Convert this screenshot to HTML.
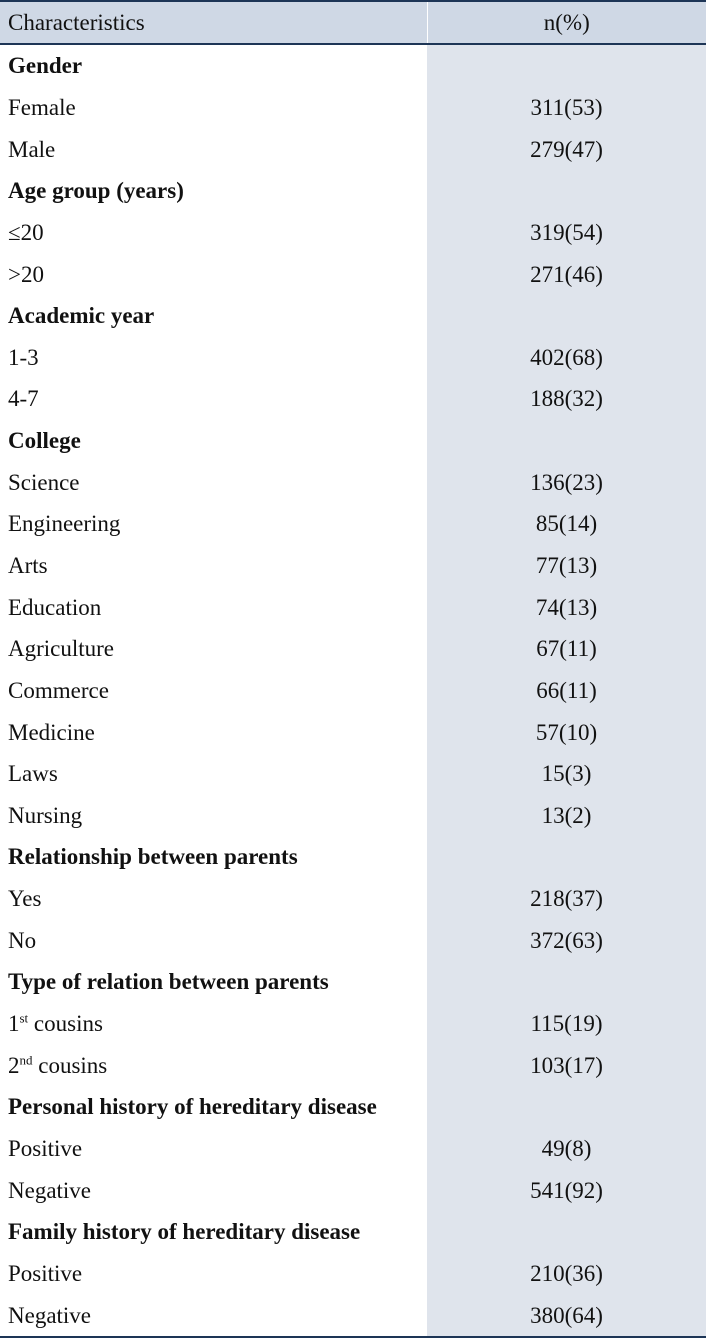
<!DOCTYPE html>
<html><head><meta charset="utf-8"><style>
html,body{margin:0;padding:0;background:#fff;}
body{width:706px;height:1337px;overflow:hidden;position:relative;font-family:"Liberation Serif",serif;color:#111;}
table{position:absolute;left:0;top:0;width:706px;border-collapse:collapse;table-layout:fixed;border-top:2px solid #1d3556;border-bottom:2px solid #1d3556;}
td,th{padding:0 0 0 8px;font-size:23px;font-weight:normal;height:41.65px;line-height:41px;white-space:nowrap;}
th{background:#cfd8e5;height:39px;border-bottom:2px solid #1d3556;}
th.c1{text-align:left;}
th.c2{text-align:center;padding:0;border-left:1px solid #fff;}
td.v{background:#dfe4ec;text-align:center;padding:0;}
tr.g td.l{font-weight:bold;}
sup{font-size:13px;line-height:0;}
</style></head><body>
<table>
<colgroup><col style="width:427px"><col style="width:279px"></colgroup>
<tr><th class="c1">Characteristics</th><th class="c2">n(%)</th></tr>
<tr class="g"><td class="l">Gender</td><td class="v"></td></tr>
<tr><td class="l">Female</td><td class="v">311(53)</td></tr>
<tr><td class="l">Male</td><td class="v">279(47)</td></tr>
<tr class="g"><td class="l">Age group (years)</td><td class="v"></td></tr>
<tr><td class="l">≤20</td><td class="v">319(54)</td></tr>
<tr><td class="l">&gt;20</td><td class="v">271(46)</td></tr>
<tr class="g"><td class="l">Academic year</td><td class="v"></td></tr>
<tr><td class="l">1-3</td><td class="v">402(68)</td></tr>
<tr><td class="l">4-7</td><td class="v">188(32)</td></tr>
<tr class="g"><td class="l">College</td><td class="v"></td></tr>
<tr><td class="l">Science</td><td class="v">136(23)</td></tr>
<tr><td class="l">Engineering</td><td class="v">85(14)</td></tr>
<tr><td class="l">Arts</td><td class="v">77(13)</td></tr>
<tr><td class="l">Education</td><td class="v">74(13)</td></tr>
<tr><td class="l">Agriculture</td><td class="v">67(11)</td></tr>
<tr><td class="l">Commerce</td><td class="v">66(11)</td></tr>
<tr><td class="l">Medicine</td><td class="v">57(10)</td></tr>
<tr><td class="l">Laws</td><td class="v">15(3)</td></tr>
<tr><td class="l">Nursing</td><td class="v">13(2)</td></tr>
<tr class="g"><td class="l">Relationship between parents</td><td class="v"></td></tr>
<tr><td class="l">Yes</td><td class="v">218(37)</td></tr>
<tr><td class="l">No</td><td class="v">372(63)</td></tr>
<tr class="g"><td class="l">Type of relation between parents</td><td class="v"></td></tr>
<tr><td class="l">1<sup>st</sup> cousins</td><td class="v">115(19)</td></tr>
<tr><td class="l">2<sup>nd</sup> cousins</td><td class="v">103(17)</td></tr>
<tr class="g"><td class="l">Personal history of hereditary disease</td><td class="v"></td></tr>
<tr><td class="l">Positive</td><td class="v">49(8)</td></tr>
<tr><td class="l">Negative</td><td class="v">541(92)</td></tr>
<tr class="g"><td class="l">Family history of hereditary disease</td><td class="v"></td></tr>
<tr><td class="l">Positive</td><td class="v">210(36)</td></tr>
<tr><td class="l">Negative</td><td class="v">380(64)</td></tr>
</table>
</body></html>
